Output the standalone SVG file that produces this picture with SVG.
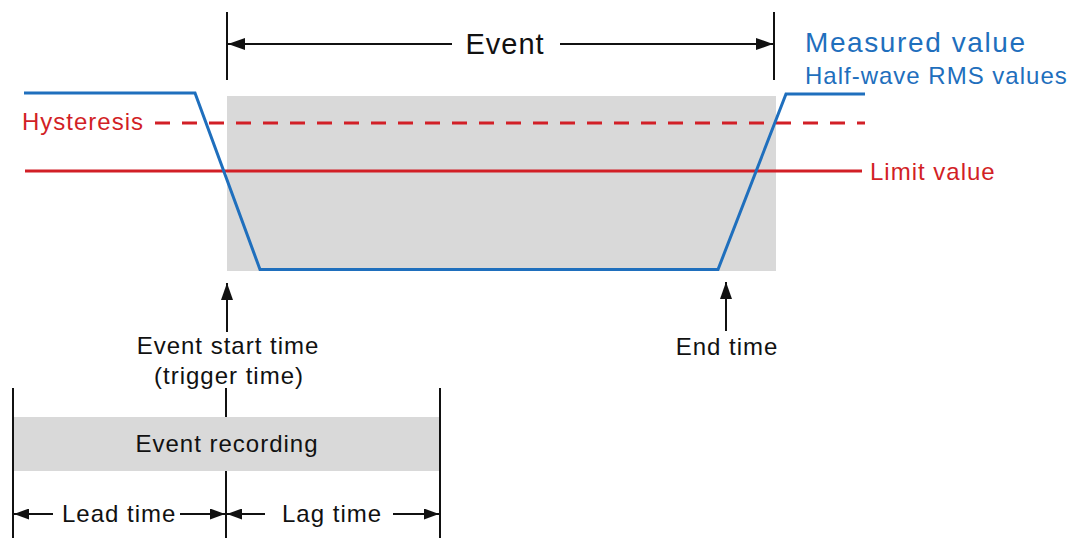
<svg xmlns="http://www.w3.org/2000/svg" width="1074" height="538" viewBox="0 0 1074 538">
<style>
text{font-family:"Liberation Sans",Arial,sans-serif;letter-spacing:1px}
.t24{font-size:24px}
.blk{fill:#111}
.red{fill:#d21f26}
.blue{fill:#1f6fbd}
.k{stroke:#111;stroke-width:2;fill:none}
.gray{fill:#d9d9d9}
</style>
<defs>
<marker id="ah" viewBox="0 0 17 12" refX="17" refY="6" markerWidth="17" markerHeight="12" markerUnits="userSpaceOnUse" orient="auto">
<path d="M0,0 L17,6 L0,12 Z" fill="#111"/>
</marker>
<marker id="ahs" viewBox="0 0 15 11" refX="15" refY="5.5" markerWidth="15" markerHeight="11" markerUnits="userSpaceOnUse" orient="auto">
<path d="M0,0 L15,5.5 L0,11 Z" fill="#111"/>
</marker>
</defs>
<g id="event-area">
<rect class="gray" x="227" y="96" width="549" height="175"/>
</g>
<g id="limit-line">
<line x1="25" y1="171" x2="862" y2="171" stroke="#d21f26" stroke-width="3"/>
<text class="t24 red" x="870" y="180">Limit value</text>
</g>
<g id="hysteresis">
<line x1="155" y1="123" x2="865" y2="123" stroke="#d21f26" stroke-width="3" stroke-dasharray="15 12"/>
<text class="t24 red" x="22" y="130">Hysteresis</text>
</g>
<g id="measured-value">
<polyline points="24,93 195,93 260,269.5 718,269.5 786,94 865,94" fill="none" stroke="#1f6fbd" stroke-width="3" stroke-linejoin="miter"/>
<text class="blue" x="805" y="52" font-size="28" style="letter-spacing:1.6px">Measured value</text>
<text class="t24 blue" x="805" y="84">Half-wave RMS values</text>
</g>
<g id="connectors">
<line class="k" x1="227" y1="12" x2="227" y2="80"/>
<line class="k" x1="774" y1="12" x2="774" y2="80"/>
<line class="k" x1="452" y1="44" x2="228" y2="44" marker-end="url(#ah)"/>
<line class="k" x1="560" y1="44" x2="773" y2="44" marker-end="url(#ah)"/>
<line class="k" x1="227" y1="332" x2="227" y2="283" marker-end="url(#ah)"/>
<line class="k" x1="726" y1="331" x2="726" y2="282" marker-end="url(#ah)"/>
<line class="k" x1="13" y1="388" x2="13" y2="538"/>
<line class="k" x1="226" y1="388" x2="226" y2="538"/>
<line class="k" x1="440" y1="388" x2="440" y2="538"/>
<line class="k" x1="53" y1="514" x2="14" y2="514" marker-end="url(#ahs)"/>
<line class="k" x1="180" y1="514" x2="225" y2="514" marker-end="url(#ahs)"/>
<line class="k" x1="265" y1="514" x2="227" y2="514" marker-end="url(#ahs)"/>
<line class="k" x1="393" y1="514" x2="439" y2="514" marker-end="url(#ahs)"/>
</g>
<g id="event-label">
<text class="blk" x="505" y="54" font-size="29" text-anchor="middle">Event</text>
</g>
<g id="start-time">
<text class="t24 blk" x="228" y="354" text-anchor="middle">Event start time</text>
<text class="t24 blk" x="229" y="384" text-anchor="middle">(trigger time)</text>
</g>
<g id="end-time">
<text class="t24 blk" x="727" y="355" text-anchor="middle">End time</text>
</g>
<g id="event-recording">
<rect class="gray" x="14" y="417" width="425" height="54"/>
<text class="t24 blk" x="227" y="452" text-anchor="middle">Event recording</text>
</g>
<g id="lead-time">
<text class="t24 blk" x="62" y="522">Lead time</text>
</g>
<g id="lag-time">
<text class="t24 blk" x="282" y="522">Lag time</text>
</g>
</svg>
